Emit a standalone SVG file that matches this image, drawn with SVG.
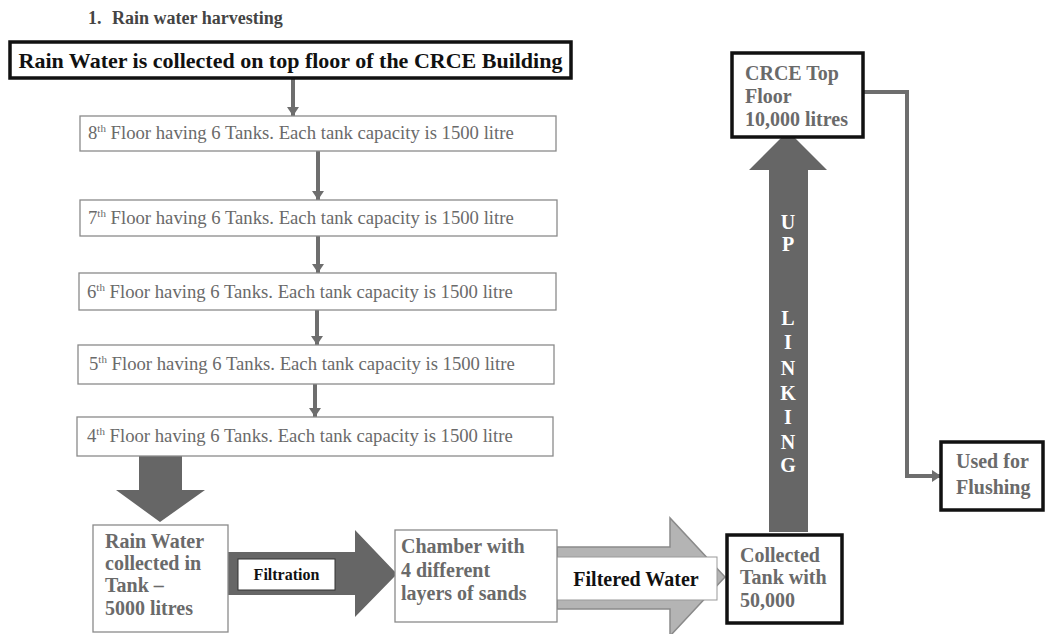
<svg xmlns="http://www.w3.org/2000/svg" width="1049" height="634" viewBox="0 0 1049 634">
<style>
text{font-family:"Liberation Serif","Times New Roman",serif;}
.thin{fill:#fff;stroke:#8a8a8a;stroke-width:1.3;}
.thick{fill:#fff;stroke:#111;stroke-width:3.5;}
.floor{font-size:18.7px;fill:#6a6a6a;}
.sup{font-size:11px;}
.bg{font-size:20px;font-weight:bold;fill:#6a6a6a;}
.link{fill:none;stroke:#6e6e6e;stroke-width:4;}
.dark{fill:#666;}
.up{font-size:20px;font-weight:bold;fill:#fff;text-anchor:middle;}
</style>
<defs>
<marker id="ah" markerUnits="userSpaceOnUse" markerWidth="12" markerHeight="12" refX="9" refY="6" orient="auto">
<path d="M0,0 L9,6 L0,12 z" fill="#6e6e6e"/>
</marker>
</defs>
<rect width="1049" height="634" fill="#fff"/>
<g id="title">
<text x="88" y="24" font-size="18" font-weight="bold" fill="#444">1.</text>
<text x="112" y="24" font-size="18" font-weight="bold" fill="#444">Rain water harvesting</text>
</g>
<g id="connectors">
<line class="link" x1="293" y1="78" x2="293" y2="116" marker-end="url(#ah)"/>
<line class="link" x1="318" y1="151" x2="318" y2="200" marker-end="url(#ah)"/>
<line class="link" x1="318" y1="236" x2="318" y2="273" marker-end="url(#ah)"/>
<line class="link" x1="317" y1="310" x2="317" y2="345" marker-end="url(#ah)"/>
<line class="link" x1="315" y1="384" x2="315" y2="417" marker-end="url(#ah)"/>
<polyline class="link" points="863,92 907,92 907,476 941,476" marker-end="url(#ah)"/>
<polygon id="down-arrow" class="dark" points="139,456 182,456 182,490 205,490 160,522 116,490 139,490"/>
<g id="filtration-arrow">
<polygon class="dark" points="228,552 355,552 355,530 397,574 355,617 355,595 228,595"/>
<rect x="238" y="559" width="97" height="31" fill="#fff" stroke="#333" stroke-width="1"/>
<text x="286.5" y="580" font-size="16" font-weight="bold" fill="#111" text-anchor="middle">Filtration</text>
</g>
<g id="filtered-arrow">
<polygon points="557,547 670,547 670,518 725,577 670,636 670,609 557,609" fill="#b4b4b4" stroke="#8a8a8a" stroke-width="1.5"/>
<rect x="556" y="557" width="161" height="43" fill="#fff" stroke="#999" stroke-width="1"/>
<text x="636" y="586" font-size="20" font-weight="bold" fill="#111" text-anchor="middle">Filtered Water</text>
</g>
<g id="uplink-arrow">
<polygon class="dark" points="769,532 808,532 808,170 827,170 788,131 749,170 769,170"/>
<text class="up" x="788" y="229">U</text>
<text class="up" x="788" y="251">P</text>
<text class="up" x="788" y="325">L</text>
<text class="up" x="788" y="349">I</text>
<text class="up" x="788" y="375">N</text>
<text class="up" x="788" y="400">K</text>
<text class="up" x="788" y="424">I</text>
<text class="up" x="788" y="449">N</text>
<text class="up" x="788" y="472">G</text>
</g>
</g>
<g id="n-top">
<rect class="thick" x="10" y="42" width="561" height="36"/>
<text x="290.5" y="68" font-size="22" font-weight="bold" fill="#111" text-anchor="middle">Rain Water is collected on top floor of the CRCE Building</text>
</g>
<g id="n-8">
<rect class="thin" x="80" y="116" width="476" height="35"/>
<text class="floor" x="88" y="139">8<tspan class="sup" dy="-7">th</tspan><tspan dy="7"> Floor having 6 Tanks. Each tank capacity is 1500 litre</tspan></text>
</g>
<g id="n-7">
<rect class="thin" x="80" y="200" width="477" height="36"/>
<text class="floor" x="88" y="224">7<tspan class="sup" dy="-7">th</tspan><tspan dy="7"> Floor having 6 Tanks. Each tank capacity is 1500 litre</tspan></text>
</g>
<g id="n-6">
<rect class="thin" x="79" y="273" width="477" height="37"/>
<text class="floor" x="87" y="298">6<tspan class="sup" dy="-7">th</tspan><tspan dy="7"> Floor having 6 Tanks. Each tank capacity is 1500 litre</tspan></text>
</g>
<g id="n-5">
<rect class="thin" x="78" y="345" width="476" height="39"/>
<text class="floor" x="89" y="370">5<tspan class="sup" dy="-7">th</tspan><tspan dy="7"> Floor having 6 Tanks. Each tank capacity is 1500 litre</tspan></text>
</g>
<g id="n-4">
<rect class="thin" x="77" y="417" width="476" height="39"/>
<text class="floor" x="87" y="442">4<tspan class="sup" dy="-7">th</tspan><tspan dy="7"> Floor having 6 Tanks. Each tank capacity is 1500 litre</tspan></text>
</g>
<g id="n-rain">
<rect class="thin" x="93" y="525" width="135" height="107"/>
<text class="bg" x="105" y="548">Rain Water</text>
<text class="bg" x="105" y="570">collected in</text>
<text class="bg" x="105" y="592">Tank –</text>
<text class="bg" x="105" y="615">5000 litres</text>
</g>
<g id="n-chamber">
<rect class="thin" x="395" y="530" width="162" height="92"/>
<text class="bg" x="401" y="553">Chamber with</text>
<text class="bg" x="401" y="577">4 different</text>
<text class="bg" x="401" y="600">layers of sands</text>
</g>
<g id="n-collected">
<rect class="thick" x="727" y="535" width="115" height="88"/>
<text class="bg" x="740" y="562" font-size="19">Collected</text>
<text class="bg" x="740" y="584" font-size="19">Tank with</text>
<text class="bg" x="740" y="607" font-size="19">50,000</text>
</g>
<g id="n-crce">
<rect class="thick" x="732" y="53" width="131" height="84"/>
<text class="bg" x="745" y="80" fill="#777">CRCE Top</text>
<text class="bg" x="745" y="103" fill="#777">Floor</text>
<text class="bg" x="745" y="126" fill="#777">10,000 litres</text>
</g>
<g id="n-flush">
<rect class="thick" x="941" y="442" width="102" height="68"/>
<text class="bg" x="956" y="468" fill="#888">Used for</text>
<text class="bg" x="956" y="494" fill="#888">Flushing</text>
</g>
</svg>
